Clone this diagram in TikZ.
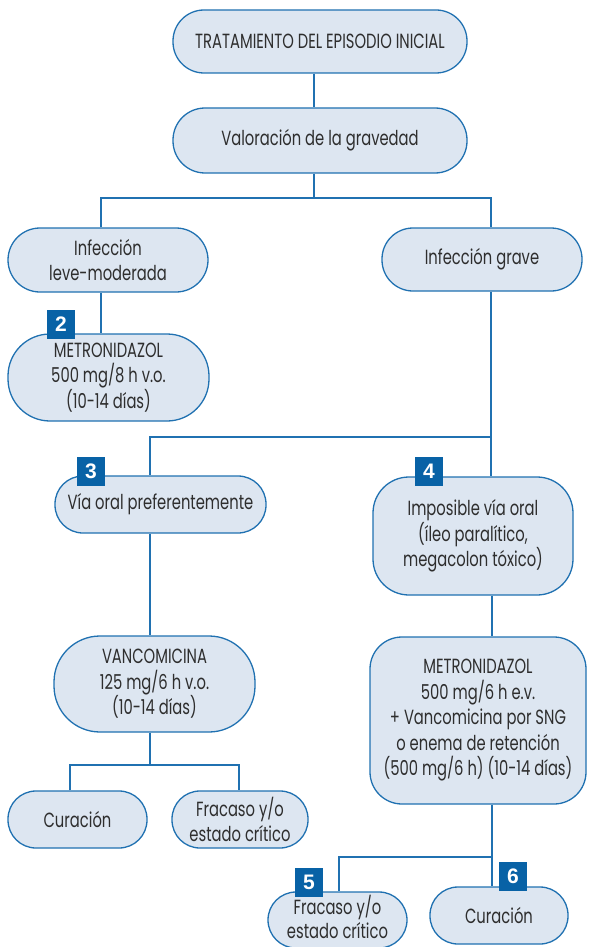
\documentclass[tikz,border=0pt]{standalone}
\usepackage{fontspec}
\setmainfont[FakeStretch=0.72]{Poppins}
\newfontfamily\badgefont{Liberation Sans}
\definecolor{boxfill}{HTML}{DDE6F1}
\definecolor{boxline}{HTML}{2071B1}
\definecolor{badgeblue}{HTML}{0862A6}
\definecolor{txt}{HTML}{2E2E2E}
\begin{document}
\begin{tikzpicture}[x=1pt,y=-1pt,
  box/.style={draw=boxline, fill=boxfill, line width=1.3pt, text=txt, align=center,
    font=\fontsize{20.5}{25.5}\selectfont, inner sep=0pt},
  wire/.style={draw=boxline, line width=1.3pt},
  badge/.style={fill=badgeblue, text=white, minimum width=28pt, minimum height=29pt,
    inner sep=0pt, font=\badgefont\bfseries\fontsize{21}{21}\selectfont}]
\useasboundingbox (0,0) rectangle (589,947);
\clip (0,0) rectangle (589,947);
% boxes
\node[box, minimum width=294pt, minimum height=63pt, rounded corners=31pt] (A) at (320,41.5) {TRATAMIENTO DEL EPISODIO INICIAL};
\node[box, minimum width=294pt, minimum height=65pt, rounded corners=32pt] (B) at (320,140.5) {Valoración de la gravedad};
\node[box, minimum width=200pt, minimum height=64pt, rounded corners=32pt] (C) at (108,260) {Infección\\leve-moderada};
\node[box, minimum width=200pt, minimum height=63pt, rounded corners=31pt] (D) at (482,259.5) {Infección grave};
\node[box, minimum width=201pt, minimum height=87pt, rounded corners=42pt] (E) at (108.5,377.5) {METRONIDAZOL\\500 mg/8 h v.o.\\(10-14 días)};
\node[box, minimum width=211pt, minimum height=57pt, rounded corners=28pt] (F) at (160.5,504.5) {Vía oral preferentemente};
\node[box, minimum width=200pt, minimum height=118pt, rounded corners=36pt] (G) at (473,536) {Imposible vía oral\\(íleo paralítico,\\megacolon tóxico)};
\node[box, minimum width=201pt, minimum height=96pt, rounded corners=46pt] (H) at (154.5,684) {VANCOMICINA\\125 mg/6 h v.o.\\(10-14 días)};
\node[box, minimum width=216pt, minimum height=167pt, rounded corners=32pt] (I) at (478,720.5) {METRONIDAZOL\\500 mg/6 h e.v.\\+ Vancomicina por SNG\\o enema de retención\\(500 mg/6 h) (10-14 días)};
\node[box, minimum width=139pt, minimum height=57pt, rounded corners=28pt] (J) at (77.5,819.5) {Curación};
\node[box, minimum width=136pt, minimum height=57pt, rounded corners=28pt] (K) at (240,819.5) {Fracaso y/o\\estado crítico};
\node[box, minimum width=139pt, minimum height=56pt, rounded corners=28pt] (L) at (337.5,920) {};
\node[text=txt, align=center, font=\fontsize{20.5}{24.5}\selectfont, inner sep=0pt] (Lt) at (337.5,917) {Fracaso y/o\\estado crítico};
\node[box, minimum width=138pt, minimum height=57pt, rounded corners=28pt] (M) at (499,915.5) {Curación};
% junctions
\coordinate (j1) at (314,198);
\coordinate (jl) at (101,198);
\coordinate (jr) at (491,198);
\coordinate (j2) at (491,437);
\coordinate (j2l) at (150,437);
\coordinate (j3) at (150,765);
\coordinate (j3l) at (70,765);
\coordinate (j3r) at (239,765);
\coordinate (j4) at (492,857);
\coordinate (j4l) at (339,857);
% connectors
\draw[wire] (A.south -| j1) -- (B.north -| j1);
\draw[wire] (B.south -| j1) -- (j1);
\draw[wire] (C.north -| jl) -- (jl) -- (jr) -- (D.north -| jr);
\draw[wire] (C.south -| jl) -- (E.north -| jl);
\draw[wire] (D.south -| j2) -- (j2) -- (j2l) -- (F.north -| j2l);
\draw[wire] (j2) -- (G.north -| j2);
\draw[wire] (F.south -| j2l) -- (H.north -| j2l);
\draw[wire] (G.south -| j4) -- (I.north -| j4);
\draw[wire] (H.south -| j3) -- (j3);
\draw[wire] (J.north -| j3l) -- (j3l) -- (j3r) -- (K.north -| j3r);
\draw[wire] (I.south -| j4) -- (j4) -- (M.north -| j4);
\draw[wire] (j4) -- (j4l) -- (L.north -| j4l);
% badges
\node[badge] (b2) at (61,324.5) {2};
\node[badge] (b3) at (91,471) {3};
\node[badge] (b4) at (429,471) {4};
\node[badge] (b5) at (309,882) {5};
\node[badge] (b6) at (513,876.5) {6};
\end{tikzpicture}
\end{document}
